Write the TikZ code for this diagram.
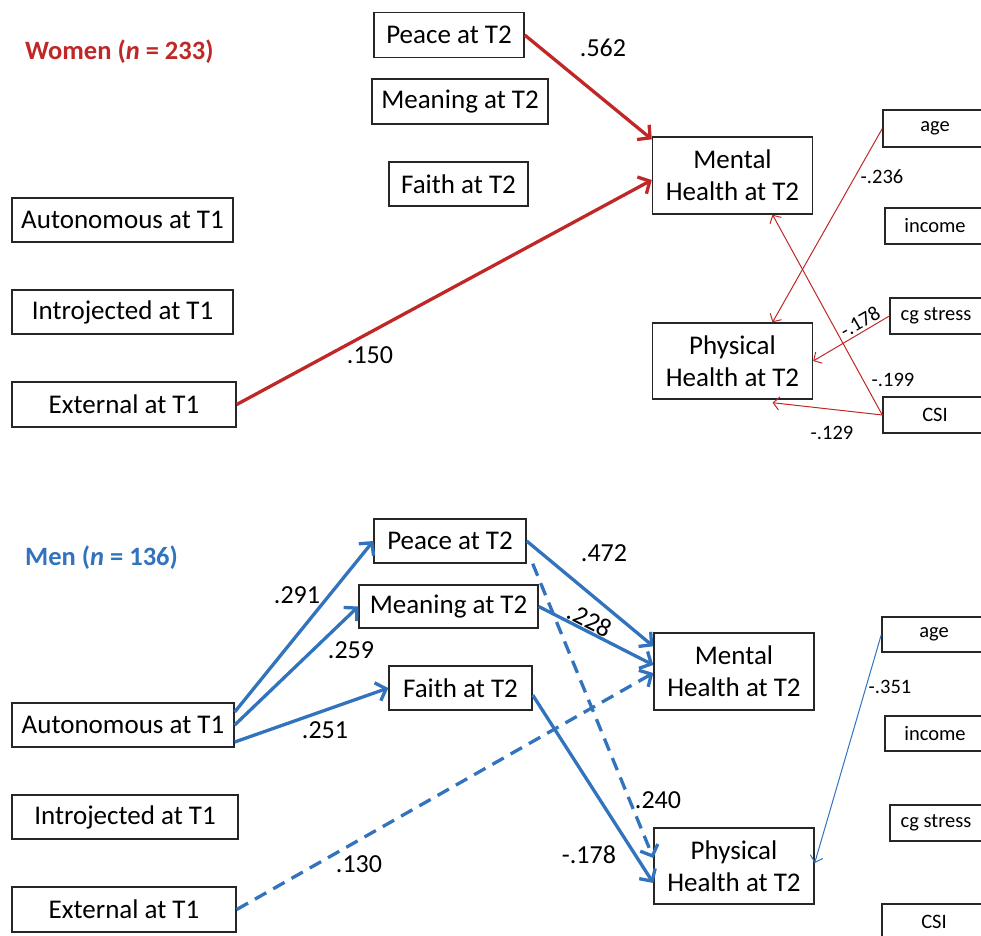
\documentclass[tikz,border=0pt]{standalone}
\usepackage{fontspec}
\setmainfont{Carlito}
\usetikzlibrary{arrows.meta,calc}
\definecolor{wred}{RGB}{192,40,40}
\definecolor{mblue}{RGB}{50,115,190}
\begin{document}
\begin{tikzpicture}[x=1pt,y=-1pt,
 box/.style={draw=black!85,line width=1.4pt,inner sep=0pt,align=center,font=\fontsize{27}{32}\selectfont},
 sbox/.style={draw=black!85,line width=1.4pt,inner sep=0pt,font=\fontsize{20.5}{24}\selectfont},
 lbl/.style={inner sep=0pt,font=\fontsize{26}{30}\selectfont},
 slbl/.style={inner sep=0pt,font=\fontsize{20.5}{24}\selectfont},
 title/.style={inner sep=0pt,anchor=west,font=\fontsize{26.5}{30}\selectfont\bfseries},
 thickred/.style={draw=wred,line width=3.3pt,-{Straight Barb[length=9pt,width=19pt]}},
 thinred/.style={draw=wred,line width=1pt,-{Straight Barb[length=6pt,width=13pt]}},
 thickblue/.style={draw=mblue,line width=3.3pt,-{Straight Barb[length=9pt,width=19pt]}},
 thinblue/.style={draw=mblue,line width=1pt,-{Straight Barb[length=6pt,width=13pt]}},
 dsh/.style={dash pattern=on 13pt off 8pt}
]
\useasboundingbox (0,0) rectangle (981,935);
% ---------- Women ----------
\node[title,text=wred] (wt) at (25,52) {Women (\textit{n} = 233)};
\node[box,minimum width=150pt,minimum height=45pt] (p1) at (449,35) {Peace at T2};
\node[box,minimum width=176pt,minimum height=45pt] (m1) at (460,101.5) {Meaning at T2};
\node[box,minimum width=139pt,minimum height=44pt] (f1) at (458.5,184) {Faith at T2};
\node[box,minimum width=221pt,minimum height=44pt] (a1) at (122.5,220) {Autonomous at T1};
\node[box,minimum width=221pt,minimum height=44pt] (i1) at (122.5,312) {Introjected at T1};
\node[box,minimum width=224pt,minimum height=45pt] (e1) at (124,404.5) {External at T1};
\node[box,minimum width=160pt,minimum height=77pt] (mh1) at (732.5,175.5) {Mental\\Health at T2};
\node[box,minimum width=160pt,minimum height=76pt] (ph1) at (732.5,361) {Physical\\Health at T2};
\node[sbox,minimum width=104pt,minimum height=37pt] (age1) at (935,128.5) {age};
\node[sbox,minimum width=100pt,minimum height=36pt] (inc1) at (935,226) {income};
\node[sbox,minimum width=92pt,minimum height=36pt] (cg1) at (936,316) {cg stress};
\node[sbox,minimum width=104pt,minimum height=36pt] (csi1) at (935,415) {CSI};

\draw[thickred] (p1.east) -- ([yshift=-3pt]mh1.north west);
\draw[thickred] (e1.east) -- ([yshift=-4.5pt]mh1.west);
\draw[thinred] (age1.west) -- ([xshift=40pt]ph1.north);
\draw[thinred] (csi1.west) -- ([xshift=40pt]mh1.south);
\draw[thinred] (cg1.west) -- (ph1.east);
\draw[thinred] (csi1.west) -- ([xshift=40pt,yshift=-3pt]ph1.south);

\node[lbl] (l562) at (603,48) {.562};
\node[lbl] (l150) at (370,355) {.150};
\node[slbl] (l236) at (882,177) {-.236};
\node[slbl] (l199) at (893,380) {-.199};
\node[slbl,rotate=30] (l178w) at (860,322) {-.178};
\node[slbl] (l129) at (832,433) {-.129};

% ---------- Men ----------
\node[title,text=mblue] (mt) at (25,558) {Men (\textit{n} = 136)};
\node[box,minimum width=152pt,minimum height=44pt] (p2) at (450,541) {Peace at T2};
\node[box,minimum width=179pt,minimum height=43pt] (m2) at (448.5,606.5) {Meaning at T2};
\node[box,minimum width=143pt,minimum height=44pt] (f2) at (460.5,688) {Faith at T2};
\node[box,minimum width=222pt,minimum height=44pt] (a2) at (123,725) {Autonomous at T1};
\node[box,minimum width=226pt,minimum height=44pt] (i2) at (125,817) {Introjected at T1};
\node[box,minimum width=224pt,minimum height=45pt] (e2) at (124,909.5) {External at T1};
\node[box,minimum width=160pt,minimum height=77pt] (mh2) at (734,671.5) {Mental\\Health at T2};
\node[box,minimum width=160pt,minimum height=76pt] (ph2) at (734,866) {Physical\\Health at T2};
\node[sbox,minimum width=104pt,minimum height=35pt] (age2) at (934,634.5) {age};
\node[sbox,minimum width=100pt,minimum height=35pt] (inc2) at (935,733.5) {income};
\node[sbox,minimum width=92pt,minimum height=36pt] (cg2) at (936,823) {cg stress};
\node[sbox,minimum width=104pt,minimum height=36pt] (csi2) at (934,922) {CSI};

\draw[thickblue] ([yshift=13pt]a2.east) -- (p2.west);
\draw[thickblue] (a2.east) -- (m2.west);
\draw[thickblue] ([yshift=-17pt]a2.east) -- (f2.west);
\draw[thickblue] (p2.east) -- ([yshift=-14pt]mh2.north west);
\draw[thickblue] (m2.east) -- ([yshift=6.5pt]mh2.west);
\draw[thickblue,dsh] (e2.east) -- ([yshift=-1.5pt]mh2.west);
\draw[thickblue] ([yshift=-7pt]f2.east) -- ([yshift=-17pt]ph2.west);
\draw[thickblue,dsh] ([xshift=6pt]p2.south east) -- ([yshift=8pt]ph2.west);
\draw[thinblue] (age2.west) -- ([yshift=3pt]ph2.east);

\node[lbl] (l291) at (297,595) {.291};
\node[lbl] (l259) at (351,650) {.259};
\node[lbl] (l251) at (325,730) {.251};
\node[lbl] (l472) at (604,553) {.472};
\node[lbl,rotate=-27] (l228) at (590,620) {.228};
\node[lbl] (l130) at (359,864) {.130};
\node[lbl] (l178m) at (589,855) {-.178};
\node[lbl] (l240) at (658,800) {.240};
\node[slbl] (l351) at (890,687) {-.351};
\end{tikzpicture}
\end{document}
